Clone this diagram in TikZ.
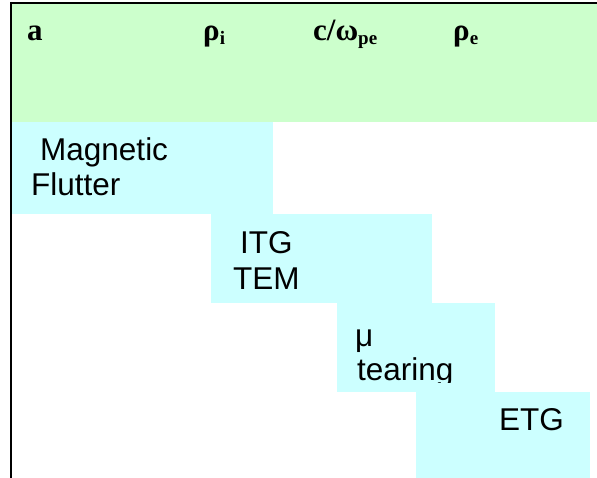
\documentclass[tikz,border=0pt]{standalone}
\usepackage{fontspec}
\setmainfont{Liberation Serif}
\newfontfamily\bodyfont{Liberation Sans}
\definecolor{hdrgreen}{HTML}{CCFFCC}
\definecolor{cellcyan}{HTML}{CCFFFF}
% lowered, smaller subscript for the header symbols
\newcommand\lowsub[1]{\raisebox{-4pt}{\fontsize{19}{19}\selectfont #1}}

\begin{document}
\begin{tikzpicture}[x=1pt,y=-1pt,
  cell/.style={fill=cellcyan, draw=none, inner sep=0pt, outer sep=0pt, anchor=north west},
  hdr/.style={anchor=base west, inner sep=0pt, font=\bfseries\fontsize{31}{33}\selectfont},
  lbl/.style={anchor=base west, inner sep=0pt, font=\bodyfont\fontsize{31.5}{35}\selectfont},
  frame/.style={line width=2.5pt, black}]
\useasboundingbox (0,0) rectangle (597,478);

% header band
\node[fill=hdrgreen, draw=none, inner sep=0pt, outer sep=0pt, anchor=north west,
      minimum width=585pt, minimum height=118pt] (band) at (12,4) {};

% staircase of cyan cells
\node[cell, minimum width=261pt, minimum height=92pt] (cflutter) at (12,122) {};
\node[cell, minimum width=221pt, minimum height=89pt] (citg) at (211,214) {};
\node[cell, minimum width=158pt, minimum height=89pt] (ctear) at (337,303) {};
\node[cell, minimum width=174pt, minimum height=86pt] (cetg) at (416,392) {};

% header symbols
\node[hdr] (ha) at (27,41) {a};
\node[hdr] (hri) at (203,41) {ρ\lowsub{i}};
\node[hdr] (hcw) at (313,41) {c/ω\lowsub{pe}};
\node[hdr] (hre) at (453,41) {ρ\lowsub{e}};

% cell labels
\node[lbl] (t1) at (40,161) {Magnetic};
\node[lbl] (t2) at (31,196) {Flutter};
\node[lbl] (t3) at (240,254) {ITG};
\node[lbl] (t4) at (233,290) {TEM};
\node[lbl] (t5) at (355,346) {μ};
\begin{scope}
  \clip (337,303) rectangle (495,382);
  \node[lbl] (t6) at (357,380) {tearing};
\end{scope}
\node[lbl] (t7) at (499,430) {ETG};

% frame lines
\draw[frame] (10,3) -- (597,3);
\draw[frame] (11,2) -- (11,478);
\end{tikzpicture}
\end{document}
